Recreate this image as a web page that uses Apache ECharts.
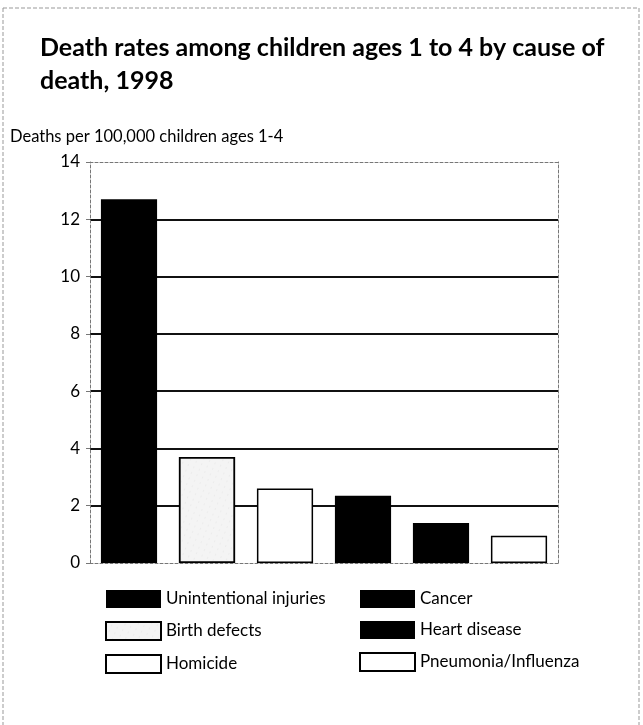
<!DOCTYPE html>
<html>
<head>
<meta charset="utf-8">
<script src="https://cdn.jsdelivr.net/npm/echarts@6/dist/echarts.min.js"></script>
<style>
  html, body { margin: 0; padding: 0; background: #fff; }
  #chart { width: 643px; height: 725px; }
</style>
</head>
<body>
<div id="chart"></div>
<script>
const categories = ['Unintentional injuries', 'Birth defects', 'Homicide', 'Cancer', 'Heart disease', 'Pneumonia/Influenza']
const rates = [12.7, 3.7, 2.6, 2.35, 1.4, 0.95]
const fills = ['#000000', '#f4f4f4', '#ffffff', '#000000', '#000000', '#ffffff']
const yTicks = [0, 2, 4, 6, 8, 10, 12, 14]

const FONT = 'Lato'
const chart = echarts.init(document.getElementById('chart'))

// one series per cause so each gets its own legend entry; stacked so the bar sits centred in its slot
const series = categories.map((name, i) => ({
  name,
  type: 'bar',
  stack: 'all',
  barWidth: '72%',
  data: categories.map((_, j) => (j === i ? rates[i] : '-')),
  itemStyle: {
    color: fills[i],
    borderColor: '#000',
    borderWidth: fills[i] === '#000000' ? 0 : 1.5,
    decal: i === 1
      ? { symbol: 'rect', symbolSize: 0.35, color: '#9a9a9a', dashArrayX: [1, 5], dashArrayY: [2, 4], rotation: 0.4 }
      : undefined
  }
}))

const legendText = { color: '#000', fontSize: 17, fontFamily: FONT }
const dashed = { color: '#777', type: [3, 2], width: 1 }

const legendCol = (left, names) => ({
  orient: 'vertical',
  left,
  top: 585,
  itemWidth: 55,
  itemHeight: 18,
  itemGap: 13,
  icon: 'rect',
  selectedMode: false,
  data: names,
  textStyle: legendText
})

chart.setOption({
  backgroundColor: '#ffffff',
  animation: false,
  title: [
    {
      text: 'Death rates among children ages 1 to 4 by cause of\ndeath, 1998',
      left: 40,
      top: 31,
      padding: 0,
      textStyle: { color: '#000', fontSize: 25, fontWeight: 'bold', fontFamily: FONT, lineHeight: 33 }
    },
    {
      text: 'Deaths per 100,000 children ages 1-4',
      left: 10,
      top: 128,
      padding: 0,
      textStyle: { color: '#000', fontSize: 16.5, fontWeight: 'normal', fontFamily: FONT }
    }
  ],
  legend: [
    legendCol(100, [categories[0], categories[1], categories[2]]),
    legendCol(354, [categories[3], categories[4], categories[5]])
  ],
  grid: { left: 90, right: 85, top: 162, bottom: 162 },
  xAxis: [
    {
      type: 'category',
      data: categories,
      axisLine: { onZero: false, lineStyle: dashed },
      axisTick: { show: false },
      axisLabel: { show: false }
    },
    {
      type: 'category',
      position: 'top',
      data: categories,
      axisLine: { show: true, onZero: false, lineStyle: dashed },
      axisTick: { show: false },
      axisLabel: { show: false }
    }
  ],
  yAxis: [
    {
      type: 'value',
      min: yTicks[0],
      max: yTicks[yTicks.length - 1],
      interval: 2,
      axisLine: { show: true, lineStyle: dashed },
      axisTick: { show: true, length: 4, lineStyle: { color: '#777' } },
      axisLabel: { color: '#000', fontSize: 17, fontFamily: FONT, margin: 10 },
      splitLine: {
        show: true,
        lineStyle: {
          width: 2,
          color: yTicks.map((v) => (v === 0 || v === 14 ? 'rgba(0,0,0,0)' : '#111'))
        }
      }
    },
    {
      type: 'value',
      position: 'right',
      min: yTicks[0],
      max: yTicks[yTicks.length - 1],
      interval: 2,
      axisLine: { show: true, lineStyle: dashed },
      axisTick: { show: false },
      axisLabel: { show: false },
      splitLine: { show: false }
    }
  ],
  series,
  graphic: [
    {
      type: 'rect',
      shape: { x: 3, y: 8, width: 636, height: 740 },
      style: { fill: null, stroke: '#999', lineWidth: 1, lineDash: [4, 2] },
      silent: true
    }
  ]
})
</script>
</body>
</html>
